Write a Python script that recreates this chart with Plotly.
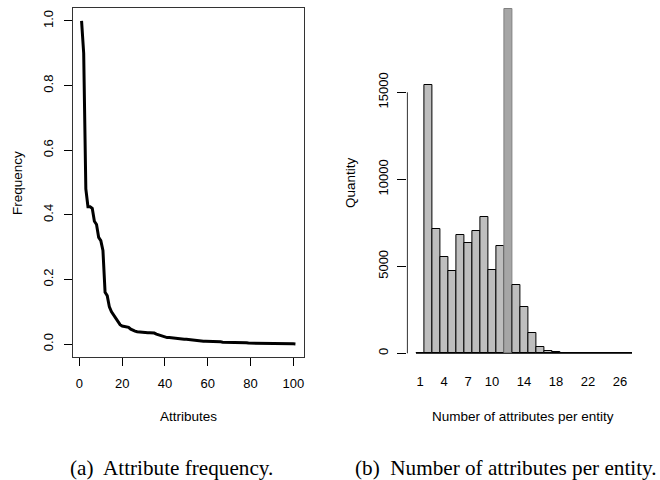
import plotly.graph_objects as go

# ---- Data ----
attr_rank = list(range(1, 102))
attr_freq = [
    1.00, 0.90, 0.48, 0.425, 0.425, 0.42, 0.38, 0.37, 0.33, 0.32,
    0.29, 0.16, 0.15, 0.115, 0.10, 0.09, 0.08, 0.07, 0.06, 0.056,
    0.054, 0.053, 0.052, 0.046, 0.042, 0.040, 0.038, 0.037, 0.036, 0.036,
    0.036, 0.035, 0.035, 0.035, 0.034, 0.031, 0.029, 0.027, 0.023, 0.021,
    0.020, 0.020, 0.019, 0.018, 0.018, 0.017, 0.016, 0.016, 0.015, 0.015,
    0.014, 0.013, 0.012, 0.011, 0.011, 0.010, 0.010, 0.009, 0.009, 0.009,
    0.008, 0.008, 0.008, 0.007, 0.007, 0.007, 0.006, 0.006, 0.006, 0.005,
    0.005, 0.005, 0.005, 0.004, 0.004, 0.004, 0.004, 0.004, 0.003, 0.003,
    0.003, 0.003, 0.003, 0.003, 0.002, 0.002, 0.002, 0.002, 0.002, 0.002,
    0.002, 0.002, 0.001, 0.001, 0.001, 0.001, 0.001, 0.001, 0.001, 0.001,
    0.0005,
]
left_xticks = [0, 20, 40, 60, 80, 100]
left_yticks = [0.0, 0.2, 0.4, 0.6, 0.8, 1.0]

n_attrs = list(range(1, 28))
quantity = [
    0, 15400, 7130, 5520, 4750, 6800, 6320, 7030, 7820, 4790,
    6170, 19800, 3910, 2650, 1150, 345, 130, 60, 45, 40,
    45, 35, 15, 8, 5, 3, 2,
]
right_xticks = [1, 4, 7, 10, 14, 18, 22, 26]
right_yticks = [0, 5000, 10000, 15000]

SANS = "Liberation Sans, Arial, Helvetica, sans-serif"
SERIF = "Liberation Serif, Times New Roman, serif"
W, H = 660, 480

fig = go.Figure()

fig.add_trace(go.Scatter(
    x=attr_rank, y=attr_freq, mode="lines",
    line=dict(color="black", width=3),
    xaxis="x", yaxis="y", showlegend=False,
))

line_cols = ["#808080" if v == max(quantity) else "black" for v in quantity]
fill_cols = ["#A6A6A6" if v == max(quantity) else "#BEBEBE" for v in quantity]
fig.add_trace(go.Bar(
    x=n_attrs, y=quantity, width=1,
    marker=dict(color=fill_cols, line=dict(color=line_cols, width=1)),
    xaxis="x2", yaxis="y2", showlegend=False,
))

tickfont = dict(family=SANS, size=13, color="black")

fig.update_layout(
    width=W, height=H,
    margin=dict(l=0, r=0, t=0, b=0),
    paper_bgcolor="white", plot_bgcolor="white",
    bargap=0,
    xaxis=dict(
        domain=[73 / W, 304 / W], range=[-3, 105], anchor="y",
        tickvals=left_xticks, ticks="outside", ticklen=8, tickcolor="black",
        showline=True, mirror=True, linecolor="#333333", linewidth=1,
        showgrid=False, zeroline=False, tickfont=tickfont,
        ticklabelstandoff=6,
    ),
    yaxis=dict(
        domain=[1 - 357 / H, 1 - 8 / H], range=[-0.04, 1.04], anchor="x",
        tickvals=left_yticks, tickformat=".1f", tickangle=-90,
        ticks="outside", ticklen=8, tickcolor="black",
        showline=True, mirror=True, linecolor="#333333", linewidth=1,
        showgrid=False, zeroline=False, tickfont=tickfont,
        ticklabelstandoff=6,
    ),
    xaxis2=dict(
        domain=[407.4 / W, 640.6 / W], range=[-0.575, 28.575], anchor="y2",
        tickvals=right_xticks, ticks="", showline=False,
        showgrid=False, zeroline=False, tickfont=tickfont,
        ticklabelstandoff=15,
    ),
    yaxis2=dict(
        domain=[1 - 357 / H, 1 - 2 / H], range=[-213, 20190], anchor="x2",
        tickvals=right_yticks, ticktext=[str(v) for v in right_yticks],
        tickangle=-90,
        ticks="outside", ticklen=9, tickcolor="black",
        showline=False, showgrid=False, zeroline=False, tickfont=tickfont,
        ticklabelstandoff=4,
    ),
)

# Right y axis line (0 .. 15000) and zero baseline under bars
fig.add_shape(type="line", xref="x2 domain", yref="y2",
              x0=0, x1=0, y0=0, y1=right_yticks[-1],
              line=dict(color="#333333", width=1))
fig.add_shape(type="line", xref="x2", yref="y2",
              x0=n_attrs[0] - 0.5, x1=n_attrs[-1] + 0.5, y0=0, y1=0,
              line=dict(color="black", width=1), layer="below")

ann = []
def add_text(text, x, y, size, family, angle=0):
    ann.append(dict(text=text, x=x / W, y=1 - y / H, xref="paper", yref="paper",
                    showarrow=False, xanchor="center", yanchor="middle",
                    textangle=angle, font=dict(family=family, size=size, color="black")))

add_text("Frequency", 17, 183, 13.5, SANS, -90)
add_text("Attributes", 188.5, 416, 13.5, SANS)
add_text("Quantity", 350, 183, 13.5, SANS, -90)
add_text("Number of attributes per entity", 523, 416, 13.5, SANS)
add_text("(a)\u00a0 Attribute frequency.", 171.5, 467.5, 21.2, SERIF)
add_text("(b)\u00a0 Number of attributes per entity.", 505.5, 467.5, 21.2, SERIF)
fig.update_layout(annotations=ann)

fig.write_html(
    "out.html",
    config={"displayModeBar": False},
    post_script="document.body.style.margin='0';document.body.style.overflow='hidden';",
)
